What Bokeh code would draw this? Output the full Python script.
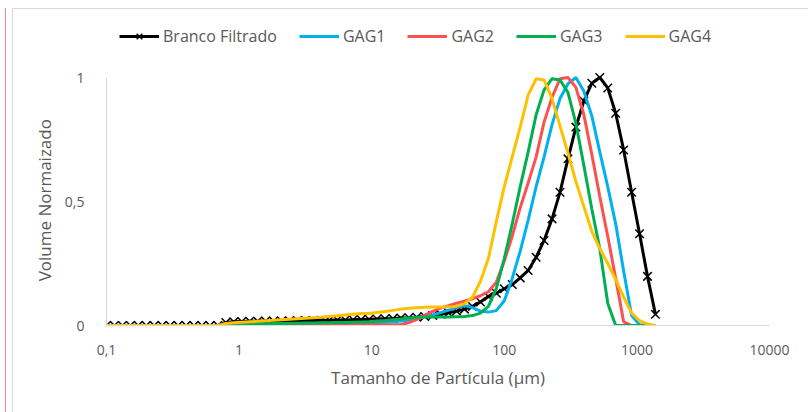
from bokeh.plotting import figure
from bokeh.models import (Legend, LegendItem, FixedTicker, CustomJSTickFormatter, Range1d)
from bokeh.layouts import column
from bokeh.embed import file_html
from bokeh.resources import INLINE

# Particle size classes (µm)
sizes = [0.1, 0.1148, 0.1318, 0.1514, 0.1738, 0.1995, 0.2291, 0.263, 0.302, 0.3467,
         0.3981, 0.4571, 0.5248, 0.6026, 0.6918, 0.7943, 0.912, 1.047, 1.202, 1.380,
         1.585, 1.820, 2.089, 2.399, 2.754, 3.162, 3.631, 4.169, 4.786, 5.495,
         6.310, 7.244, 8.318, 9.550, 10.96, 12.59, 14.45, 16.60, 19.05, 21.88,
         25.12, 28.84, 33.11, 38.02, 43.65, 50.12, 57.54, 66.07, 75.86, 87.10,
         100.0, 114.8, 131.8, 151.4, 173.8, 199.5, 229.1, 263.0, 302.0, 346.7,
         398.1, 457.1, 524.8, 602.6, 691.8, 794.3, 912.0, 1047, 1202, 1380]

branco = [0]*15 + [0.012, 0.015, 0.016, 0.017, 0.017, 0.018, 0.018, 0.018, 0.019, 0.019,
                   0.02, 0.02, 0.021, 0.021, 0.022, 0.022, 0.023, 0.024, 0.025, 0.026,
                   0.027, 0.028, 0.03, 0.031, 0.033, 0.036, 0.04, 0.045, 0.051, 0.058,
                   0.066, 0.077, 0.095, 0.117, 0.13, 0.148, 0.165, 0.192, 0.222, 0.275,
                   0.343, 0.43, 0.537, 0.672, 0.80, 0.905, 0.977, 1.0, 0.958, 0.856,
                   0.708, 0.537, 0.37, 0.198, 0.045]

gag1 = [0]*15 + [0.003, 0.004, 0.004, 0.005, 0.005, 0.005, 0.006, 0.006, 0.006, 0.007,
                 0.007, 0.007, 0.008, 0.008, 0.008, 0.009, 0.01, 0.01, 0.011, 0.012,
                 0.013, 0.015, 0.018, 0.022, 0.028, 0.035, 0.043, 0.052, 0.062, 0.072,
                 0.08, 0.072, 0.058, 0.054, 0.06, 0.10, 0.19, 0.30, 0.425, 0.56,
                 0.68, 0.81, 0.915, 0.975, 1.0, 0.945, 0.845, 0.70, 0.56, 0.41,
                 0.22, 0.04, 0.003, 0, 0]

gag2 = [0]*15 + [0.003]*23 + [0.012, 0.025, 0.042, 0.057, 0.07, 0.08, 0.09, 0.098,
                              0.108, 0.12, 0.136, 0.175, 0.26, 0.36, 0.475, 0.575, 0.68,
                              0.82, 0.92, 0.995, 1.0, 0.96, 0.85, 0.69, 0.52, 0.36, 0.19,
                              0.015, 0, 0, 0, 0]

gag3 = [0]*15 + [0.004, 0.005, 0.006, 0.006, 0.007, 0.007, 0.008, 0.008, 0.009, 0.009,
                 0.01, 0.01, 0.011, 0.011, 0.012, 0.012, 0.013, 0.014, 0.015, 0.018,
                 0.02, 0.023, 0.026, 0.03, 0.033, 0.034, 0.034, 0.034, 0.034, 0.035,
                 0.036, 0.04, 0.05, 0.077, 0.15, 0.27, 0.41, 0.56, 0.70, 0.85,
                 0.95, 0.995, 0.99, 0.94, 0.815, 0.645, 0.47, 0.31, 0.09, 0,
                 0, 0, 0, 0, 0]

gag4 = [0]*15 + [0.008, 0.011, 0.013, 0.015, 0.017, 0.019, 0.021, 0.023, 0.025, 0.027,
                 0.029, 0.031, 0.033, 0.036, 0.039, 0.042, 0.045, 0.048, 0.048, 0.052,
                 0.056, 0.061, 0.066, 0.07, 0.072, 0.074, 0.075, 0.075, 0.075, 0.078,
                 0.088, 0.114, 0.178, 0.27, 0.42, 0.56, 0.68, 0.80, 0.93, 0.995,
                 0.99, 0.915, 0.805, 0.695, 0.58, 0.48, 0.38, 0.31, 0.25, 0.185,
                 0.115, 0.05, 0.02, 0.006, 0]

series_names = ["Branco Filtrado", "GAG1", "GAG2", "GAG3", "GAG4"]
series_colors = ["#000000", "#00B0F0", "#FF5050", "#00B050", "#FFC000"]
x_ticks = [0.1, 1, 10, 100, 1000, 10000]
y_ticks = [0, 0.5, 1]

FONT = "Open Sans"
TXT = "#595959"

# frame: 308 px tall, value 1 sits 248 px above 0 -> top of range 308/248
p = figure(width=795, height=403, x_axis_type="log",
           x_range=Range1d(0.1, 10000), y_range=Range1d(0, 308 / 248),
           output_backend="svg", toolbar_location=None,
           min_border_left=93, min_border_right=39, min_border_top=8, min_border_bottom=87)
p.outline_line_color = None
p.xgrid.visible = False
p.ygrid.visible = False

r_black = p.line(sizes, branco, line_color=series_colors[0], line_width=3)
r_black_m = p.scatter(sizes, branco, marker="x", size=12, line_color=series_colors[0], line_width=1.5)
r1 = p.line(sizes, gag1, line_color=series_colors[1], line_width=3)
r2 = p.line(sizes, gag2, line_color=series_colors[2], line_width=3)
r3 = p.line(sizes, gag3, line_color=series_colors[3], line_width=3)
r4 = p.line(sizes, gag4, line_color=series_colors[4], line_width=3)

for ax in (p.xaxis[0], p.yaxis[0]):
    ax.axis_line_color = "#D9D9D9"
    ax.axis_line_width = 1
    ax.major_tick_line_color = None
    ax.minor_tick_line_color = None
    ax.major_label_text_color = TXT
    ax.major_label_text_font = FONT
    ax.major_label_text_font_size = "14px"
    ax.axis_label_text_color = TXT
    ax.axis_label_text_font = FONT
    ax.axis_label_text_font_size = "17px"
    ax.axis_label_text_font_style = "normal"

p.xaxis.ticker = FixedTicker(ticks=x_ticks)
p.xaxis.formatter = CustomJSTickFormatter(code="return tick < 1 ? String(tick).replace('.', ',') : tick.toFixed(0);")
p.xaxis.major_label_standoff = 13
p.xaxis.axis_label = "Tamanho de Partícula (µm)"
p.xaxis.axis_label_standoff = 8

p.yaxis.ticker = FixedTicker(ticks=y_ticks)
p.yaxis.bounds = (0, 1)
p.yaxis.formatter = CustomJSTickFormatter(code="return String(tick).replace('.', ',');")
p.yaxis.major_label_standoff = 16
# trailing no-break spaces centre the visible label on the 0..1 span of the axis
p.yaxis.axis_label = "Volume Normaizado" + "\u00a0" * 13
p.yaxis.axis_label_standoff = 6

legend = Legend(items=[
    LegendItem(label=series_names[0], renderers=[r_black, r_black_m]),
    LegendItem(label=series_names[1], renderers=[r1]),
    LegendItem(label=series_names[2], renderers=[r2]),
    LegendItem(label=series_names[3], renderers=[r3]),
    LegendItem(label=series_names[4], renderers=[r4]),
], orientation="horizontal", location=(13, 278), padding=0, margin=0, spacing=22,
   glyph_width=40, glyph_height=20, label_standoff=4,
   label_text_font=FONT, label_text_font_size="16px", label_text_color=TXT,
   border_line_color=None, background_fill_alpha=0)
p.add_layout(legend, "center")

inner = column(p, styles={"border-top": "1px solid #D9D9D9", "border-left": "1px solid #D9D9D9"})
layout = column(inner, styles={"margin-left": "5px", "margin-top": "8px",
                               "border-left": "1px solid #F08C8C", "padding-left": "6px"})

open("out.html", "w").write(file_html(layout, INLINE))
